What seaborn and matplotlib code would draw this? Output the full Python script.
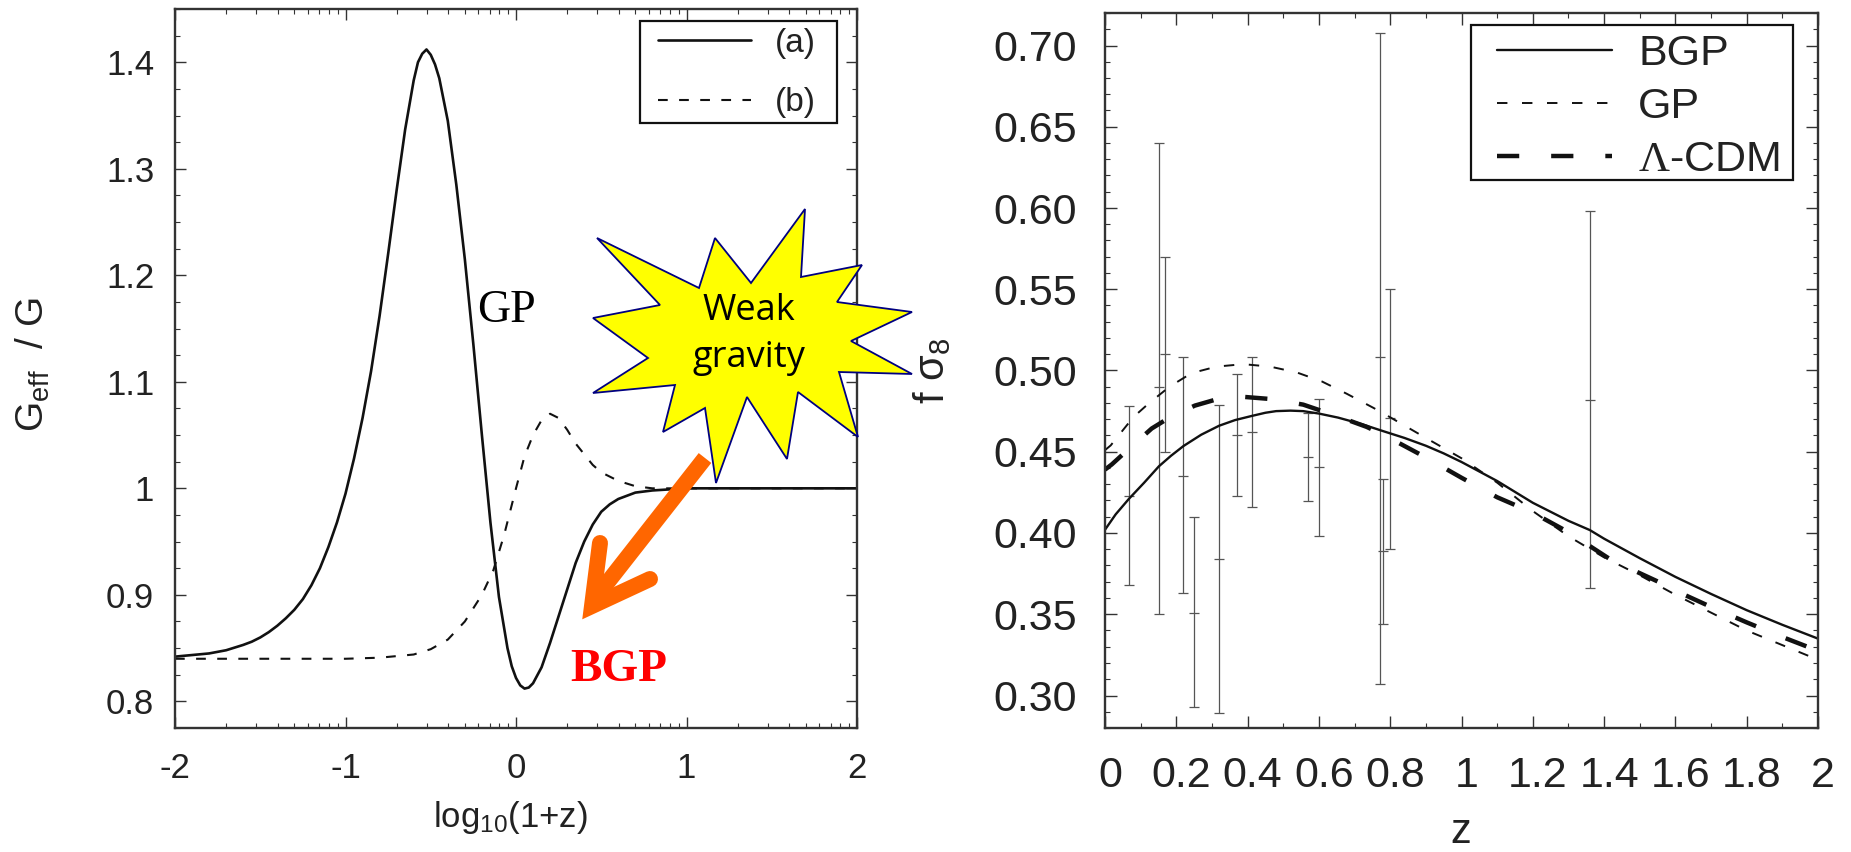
import numpy as np
import pandas as pd
import matplotlib
matplotlib.use("Agg")
import matplotlib.pyplot as plt
from matplotlib.lines import Line2D
from matplotlib.patches import Polygon, Rectangle
from matplotlib.ticker import FixedLocator, FixedFormatter
from matplotlib.transforms import ScaledTranslation
import seaborn as sns

# ---- left panel data ----
left_x_a = [-2, -1.9, -1.8, -1.7, -1.6, -1.55, -1.5, -1.45, -1.4, -1.35, -1.3, -1.25, -1.2, -1.15, -1.1, -1.05, -1.0, -0.95,
            -0.9, -0.85, -0.8, -0.75, -0.7, -0.65, -0.6, -0.575, -0.55, -0.525, -0.5, -0.475, -0.45, -0.4, -0.35, -0.3, -0.25, -0.2, -0.15,
            -0.1, -0.05, -0.025, 0, 0.025, 0.05, 0.075, 0.1, 0.15, 0.2, 0.25, 0.3, 0.35, 0.4, 0.45, 0.5, 0.55, 0.6, 0.65, 0.7, 0.8, 0.9, 1.0, 1.5, 2.0]
left_y_a = [0.842, 0.8435, 0.845, 0.848, 0.853, 0.856, 0.860, 0.865, 0.871, 0.878, 0.886, 0.896, 0.909, 0.925, 0.945, 0.968, 0.995, 1.028,
            1.066, 1.11, 1.162, 1.22, 1.28, 1.337, 1.383, 1.400, 1.408, 1.412, 1.407, 1.398, 1.385, 1.345, 1.285, 1.215, 1.135, 1.05, 0.968,
            0.898, 0.85, 0.833, 0.822, 0.815, 0.812, 0.813, 0.817, 0.832, 0.855, 0.88, 0.905, 0.93, 0.95, 0.966, 0.978, 0.985, 0.99, 0.993, 0.996, 0.998, 0.999, 1.0, 1.0, 1.0]
left_x_b = [-2, -1.5, -1.0, -0.8, -0.6, -0.5, -0.4, -0.3, -0.2, -0.133, -0.07, 0, 0.05, 0.1, 0.15, 0.2, 0.25, 0.3, 0.35, 0.4, 0.45, 0.5, 0.6, 0.7, 0.8, 1.0, 2.0]
left_y_b = [0.84, 0.84, 0.84, 0.841, 0.844, 0.849, 0.858, 0.875, 0.90, 0.923, 0.956, 1.0, 1.03, 1.05, 1.064, 1.07, 1.066, 1.055, 1.042, 1.032, 1.022, 1.015, 1.007, 1.002, 1.0, 1.0, 1.0]
left_y_ticks = [0.8, 0.9, 1.0, 1.1, 1.2, 1.3, 1.4]
left_y_labels = ["0.8", "0.9", "1", "1.1", "1.2", "1.3", "1.4"]
left_x_ticks = [-2, -1, 0, 1, 2]
left_x_labels = ["-2", "-1", "0", "1", "2"]

# ---- right panel data ----
bgp_z = [0, 0.03, 0.067, 0.11, 0.151, 0.185, 0.22, 0.27, 0.32, 0.365, 0.411, 0.45, 0.48, 0.52, 0.556, 0.6, 0.654, 0.72, 0.78, 0.84, 0.9, 0.95, 1.0, 1.1, 1.2, 1.3, 1.36, 1.4, 1.5, 1.6, 1.7, 1.8, 1.9, 2.0]
bgp_y = [0.402, 0.4115, 0.421, 0.431, 0.441, 0.4475, 0.4535, 0.4605, 0.466, 0.4695, 0.472, 0.474, 0.475, 0.4753, 0.475, 0.4735, 0.471, 0.467, 0.4627, 0.4585, 0.4537, 0.449, 0.4437, 0.432, 0.4186, 0.4075, 0.4018, 0.3965, 0.3845, 0.373, 0.3625, 0.3525, 0.3435, 0.335]
gp_z = [0, 0.016, 0.033, 0.08, 0.122, 0.182, 0.243, 0.313, 0.388, 0.463, 0.538, 0.608, 0.678, 0.753, 0.8, 0.9, 1.0, 1.1, 1.2, 1.3, 1.4, 1.5, 1.6, 1.7, 1.8, 1.9, 2.0]
gp_y = [0.451, 0.4539, 0.4586, 0.4714, 0.4796, 0.4902, 0.4984, 0.5024, 0.5039, 0.5024, 0.4988, 0.4933, 0.4857, 0.477, 0.4712, 0.4585, 0.446, 0.431, 0.4135, 0.398, 0.385, 0.374, 0.362, 0.351, 0.34, 0.331, 0.322]
lcdm_z = [0, 0.019, 0.065, 0.131, 0.182, 0.252, 0.309, 0.393, 0.467, 0.556, 0.65, 0.734, 0.785, 0.9, 1.0, 1.1, 1.2, 1.3, 1.42, 1.55, 1.6, 1.7, 1.8, 1.9, 2.0]
lcdm_y = [0.439, 0.4422, 0.4514, 0.4643, 0.4712, 0.4784, 0.482, 0.4837, 0.4824, 0.479, 0.472, 0.4653, 0.46, 0.4465, 0.434, 0.422, 0.4125, 0.4005, 0.3834, 0.3702, 0.3645, 0.3545, 0.345, 0.336, 0.3275]

err_z = [0.068, 0.151, 0.168, 0.22, 0.25, 0.32, 0.369, 0.411, 0.57, 0.60, 0.77, 0.781, 0.80, 1.36]
err_y = [0.423, 0.49, 0.51, 0.435, 0.351, 0.384, 0.460, 0.4624, 0.4467, 0.4404, 0.508, 0.3888, 0.471, 0.482]
err_hi = [0.478, 0.64, 0.57, 0.508, 0.41, 0.479, 0.498, 0.5086, 0.474, 0.4827, 0.708, 0.4335, 0.55, 0.598]
err_lo = [0.368, 0.35, 0.45, 0.363, 0.293, 0.289, 0.423, 0.416, 0.4194, 0.3984, 0.307, 0.344, 0.39, 0.366]

right_y_ticks = [0.30, 0.35, 0.40, 0.45, 0.50, 0.55, 0.60, 0.65, 0.70]
right_y_labels = ["0.30", "0.35", "0.40", "0.45", "0.50", "0.55", "0.60", "0.65", "0.70"]
right_x_ticks = [0, 0.2, 0.4, 0.6, 0.8, 1.0, 1.2, 1.4, 1.6, 1.8, 2.0]
right_x_labels = ["0", "0.2", "0.4", "0.6", "0.8", "1", "1.2", "1.4", "1.6", "1.8", "2"]

sns.set_theme(style="ticks")
plt.rcParams.update({
    "font.family": ["Liberation Sans", "DejaVu Sans"],
    "mathtext.fontset": "custom",
    "mathtext.rm": "Liberation Sans",
    "mathtext.it": "Liberation Sans",
    "mathtext.cal": "Liberation Serif",
    "lines.scale_dashes": False,
    "axes.edgecolor": "#333333",
    "axes.linewidth": 1.7,
    "text.color": "#222222",
})

W, H = 1851, 852
fig = plt.figure(figsize=(W / 100, H / 100), dpi=100, facecolor="white")


def px(x, y):
    return x / W, 1 - y / H


def axes_px(l, t, r, b):
    return fig.add_axes([l / W, 1 - b / H, (r - l) / W, (b - t) / H])


def legend_box(ax, l, t, r, b):
    ax.add_patch(Rectangle(px(l, b), (r - l) / W, (b - t) / H, transform=fig.transFigure, facecolor="white",
                           edgecolor="#111111", linewidth=1.6, zorder=4, clip_on=False))


ax1 = axes_px(175, 9, 857, 728)
ax2 = axes_px(1105, 13, 1818, 728)

# ---- left ----
df_a = pd.DataFrame({"x": left_x_a, "y": left_y_a})
df_b = pd.DataFrame({"x": left_x_b, "y": left_y_b})
sns.lineplot(data=df_a, x="x", y="y", ax=ax1, color="#111111", lw=1.9, label="(a)", estimator=None, sort=False)
sns.lineplot(data=df_b, x="x", y="y", ax=ax1, color="#111111", lw=1.5, label="(b)", estimator=None, sort=False,
             linestyle=(0, (7, 8.2)))
ax1.set_xlim(-2, 2)
ax1.set_ylim(0.775, 1.45)
ax1.xaxis.set_major_locator(FixedLocator(left_x_ticks))
ax1.xaxis.set_major_formatter(FixedFormatter(left_x_labels))
ax1.yaxis.set_major_locator(FixedLocator(left_y_ticks))
ax1.yaxis.set_major_formatter(FixedFormatter(left_y_labels))
ax1.xaxis.set_minor_locator(FixedLocator([d + np.log10(k) for d in (-2, -1, 0, 1) for k in range(2, 10)]))
ax1.yaxis.set_minor_locator(FixedLocator(np.arange(0.775, 1.451, 0.025)))
ax1.set_xlabel(r"log$_{10}$(1+z)", fontsize=25, color="#222222")
ax1.set_ylabel(r"G$_{\rm eff}$  / G", fontsize=28, color="#222222")
ax1.xaxis.set_label_coords(*px(510, 818), transform=fig.transFigure)
ax1.yaxis.set_label_coords(*px(33, 365), transform=fig.transFigure)
ax1.xaxis.label.set_va("center")
ax1.yaxis.label.set_va("center")
ax1.tick_params(which="major", direction="in", top=True, right=True, length=8, width=1.0, labelsize=25,
                color="#333333", labelcolor="#222222", pad=17)
ax1.tick_params(which="minor", direction="in", top=True, right=True, length=3.6, width=0.8, color="#333333")
ax1.tick_params(axis="y", which="major", pad=15)
legend_box(ax1, 640, 21, 837, 123)
ax1.legend(loc="upper left", bbox_to_anchor=px(658, 28), bbox_transform=fig.transFigure, fontsize=24,
           frameon=False, borderaxespad=0, borderpad=0, handlelength=2.8, labelspacing=0.85, handletextpad=0.7)

# ---- right ----
df_bgp = pd.DataFrame({"z": bgp_z, "v": bgp_y})
df_gp = pd.DataFrame({"z": gp_z, "v": gp_y})
df_lcdm = pd.DataFrame({"z": lcdm_z, "v": lcdm_y})
err_y_a, err_lo_a, err_hi_a = map(np.array, (err_y, err_lo, err_hi))
ax2.errorbar(err_z, err_y_a, yerr=[err_y_a - err_lo_a, err_hi_a - err_y_a], fmt="none", ecolor="#555555", elinewidth=0.9,
             capsize=3.7, capthick=0.9)
ax2.plot(err_z, err_y, ls="none", marker="_", ms=7.5, mew=0.9, color="#555555")
sns.lineplot(data=df_bgp, x="z", y="v", ax=ax2, color="#111111", lw=1.7, label="BGP", estimator=None, sort=False)
sns.lineplot(data=df_gp, x="z", y="v", ax=ax2, color="#111111", lw=1.4, label="GP", estimator=None, sort=False,
             linestyle=(0, (7.5, 10.5)))
sns.lineplot(data=df_lcdm, x="z", y="v", ax=ax2, color="#111111", lw=3.2, label=r"$\mathcal{\Lambda}$-CDM", estimator=None, sort=False,
             linestyle=(0, (16, 23)))
ax2.set_xlim(0, 2)
ax2.set_ylim(0.28, 0.72)
ax2.xaxis.set_major_locator(FixedLocator(right_x_ticks))
ax2.xaxis.set_major_formatter(FixedFormatter(right_x_labels))
ax2.yaxis.set_major_locator(FixedLocator(right_y_ticks))
ax2.yaxis.set_major_formatter(FixedFormatter(right_y_labels))
ax2.xaxis.set_minor_locator(FixedLocator(np.arange(0, 2.01, 0.1)))
ax2.yaxis.set_minor_locator(FixedLocator(np.arange(0.28, 0.721, 0.01)))
ax2.set_xlabel("z", fontsize=30, color="#222222")
ax2.set_ylabel(r"f σ$_8$", fontsize=30, color="#222222")
ax2.xaxis.set_label_coords(*px(1461, 832), transform=fig.transFigure)
ax2.yaxis.set_label_coords(*px(932, 371), transform=fig.transFigure)
ax2.xaxis.label.set_va("center")
ax2.yaxis.label.set_va("center")
ax2.tick_params(which="major", direction="in", top=True, right=True, length=8.4, width=1.0, labelsize=31,
                color="#333333", labelcolor="#222222", pad=20)
ax2.tick_params(which="minor", direction="in", top=True, right=True, length=3.8, width=0.8, color="#333333")
ax2.tick_params(axis="y", which="major", pad=20)
shift = ScaledTranslation(5 / 100, 0, fig.dpi_scale_trans)
for lab in ax2.get_xticklabels():
    lab.set_transform(lab.get_transform() + shift)
legend_box(ax2, 1471, 25, 1793, 180)
ax2.legend(loc="upper left", bbox_to_anchor=px(1497, 34), bbox_transform=fig.transFigure, fontsize=31,
           frameon=False, borderaxespad=0, borderpad=0, handlelength=2.68, labelspacing=0.3, handletextpad=0.6)

# ---- annotations in figure pixels ----
star_px = [(597, 238), (699, 288), (715, 238), (751, 283), (805, 209), (801, 277), (862, 265), (837, 302), (912, 312),
           (851, 341), (912, 374), (839, 372), (858, 437), (798, 392), (787, 459), (747, 397), (716, 483), (705, 408),
           (663, 432), (675, 385), (593, 393), (648, 358), (593, 318), (660, 305)]
fig.add_artist(Polygon([px(*p) for p in star_px], closed=True, transform=fig.transFigure, facecolor="#FFFF00",
                       edgecolor="#000080", linewidth=1.3, zorder=5))
fig.text(*px(749, 311), "Weak", fontsize=26, family="Open Sans", color="black", ha="center", va="center", zorder=6)
fig.text(*px(749, 358), "gravity", fontsize=26, family="Open Sans", color="black", ha="center", va="center", zorder=6)
fig.text(*px(506, 311), "GP", fontsize=33, family="Liberation Serif", color="black", ha="center", va="center", zorder=6)
fig.text(*px(619, 670), "BGP", fontsize=34, family="Liberation Serif", weight="bold", color="#FF0000", ha="center", va="center", zorder=6)

orange = "#FF6600"
shaft = [px(705, 458), px(600, 592)]
head = [px(600, 543), px(592, 606), px(650, 579)]
fig.add_artist(Line2D([p[0] for p in shaft], [p[1] for p in shaft], transform=fig.transFigure, color=orange, lw=11.5,
                      solid_capstyle="butt", zorder=7))
fig.add_artist(Line2D([p[0] for p in head], [p[1] for p in head], transform=fig.transFigure, color=orange, lw=11.5,
                      solid_capstyle="round", solid_joinstyle="miter", zorder=7))

fig.savefig("out.png", dpi=100, facecolor="white")
